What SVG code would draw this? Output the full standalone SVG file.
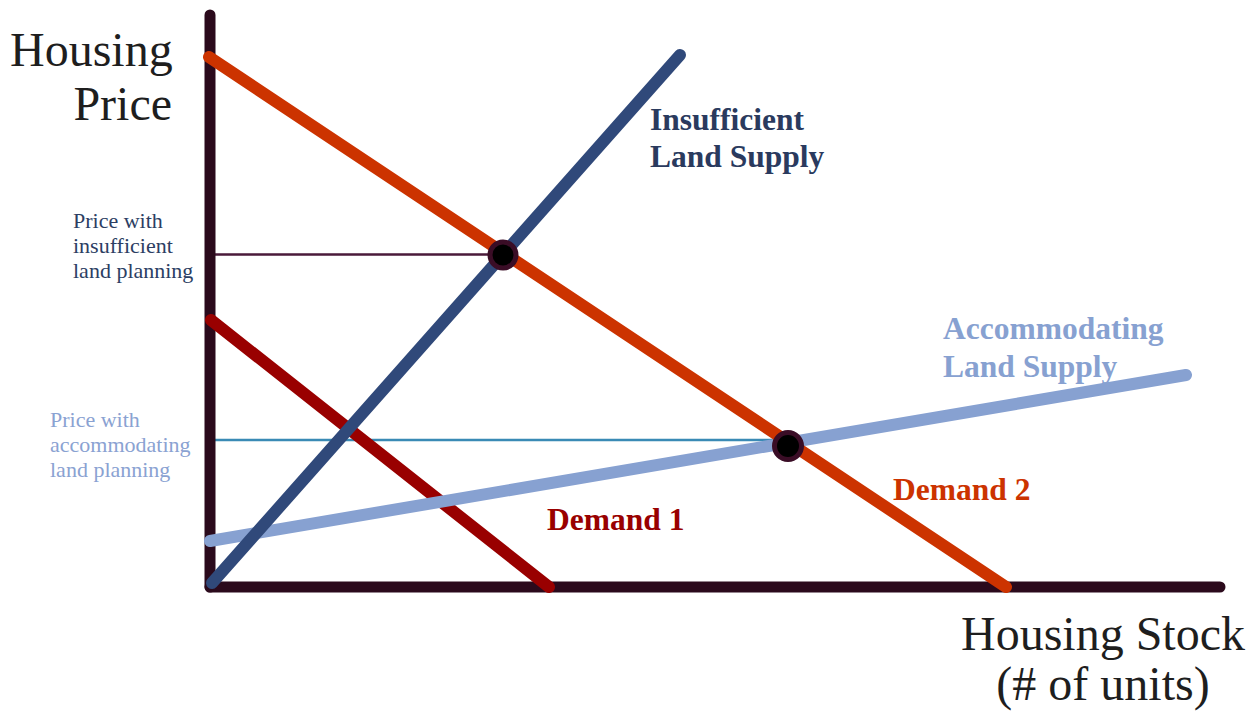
<svg xmlns="http://www.w3.org/2000/svg" width="1251" height="714" viewBox="0 0 1251 714">
<style>
.ln{fill:none;stroke-linecap:round}
.ax{stroke:#2b0a1c;stroke-width:11}
.dot{fill:#000;stroke:#3a0d26;stroke-width:5}
</style>
<rect width="1251" height="714" fill="#fff"/>
<g id="connectors">
<line class="ln" x1="209" y1="254.5" x2="500" y2="254.5" stroke="#4a1a3a" stroke-width="2.5"/>
<line class="ln" x1="209" y1="440" x2="780" y2="440" stroke="#3a8ab5" stroke-width="2.5"/>
<line class="ln ax" x1="210" y1="15" x2="210" y2="587"/>
<line class="ln ax" x1="210" y1="587" x2="1220" y2="587"/>
<line id="demand1" class="ln" x1="211" y1="320" x2="549" y2="587" stroke="#990000" stroke-width="12"/>
<line id="accommodating" class="ln" x1="210" y1="541" x2="1186" y2="375" stroke="#87a1d1" stroke-width="12"/>
<line id="insufficient" class="ln" x1="212" y1="583" x2="680" y2="55" stroke="#30497a" stroke-width="12"/>
<line id="demand2" class="ln" x1="209" y1="57" x2="1006" y2="587" stroke="#cc3300" stroke-width="12"/>
</g>
<g id="eq1"><circle class="dot" cx="503" cy="255" r="13"/></g>
<g id="eq2"><circle class="dot" cx="788" cy="446" r="13.5"/></g>
<g font-family="Liberation Serif, DejaVu Serif, serif">
<g id="y-axis-label" font-size="48" fill="#1e1e1e">
<text x="10" y="66">Housing</text>
<text x="172" y="120" text-anchor="end">Price</text>
</g>
<g id="x-axis-label" font-size="48" fill="#1e1e1e">
<text x="1103" y="650" text-anchor="middle">Housing Stock</text>
<text x="1103" y="700" text-anchor="middle">(# of units)</text>
</g>
<g id="insufficient-label" font-size="31.5" font-weight="bold" fill="#2a3a5e">
<text x="650" y="130">Insufficient</text>
<text x="650" y="167">Land Supply</text>
</g>
<g id="accommodating-label" font-size="31.5" font-weight="bold" fill="#87a1d1">
<text x="943" y="339">Accommodating</text>
<text x="943" y="377">Land Supply</text>
</g>
<g id="demand2-label" font-size="31.5" font-weight="bold" fill="#cc3300"><text x="893" y="500">Demand 2</text></g>
<g id="demand1-label" font-size="31.5" font-weight="bold" fill="#990000"><text x="547" y="530">Demand 1</text></g>
<g id="price-insufficient" font-size="22" fill="#2c3e63">
<text x="73" y="228">Price with</text>
<text x="73" y="253">insufficient</text>
<text x="73" y="278">land planning</text>
</g>
<g id="price-accommodating" font-size="22" fill="#8aa2d2">
<text x="50" y="427">Price with</text>
<text x="50" y="452">accommodating</text>
<text x="50" y="477">land planning</text>
</g>
</g>
</svg>
